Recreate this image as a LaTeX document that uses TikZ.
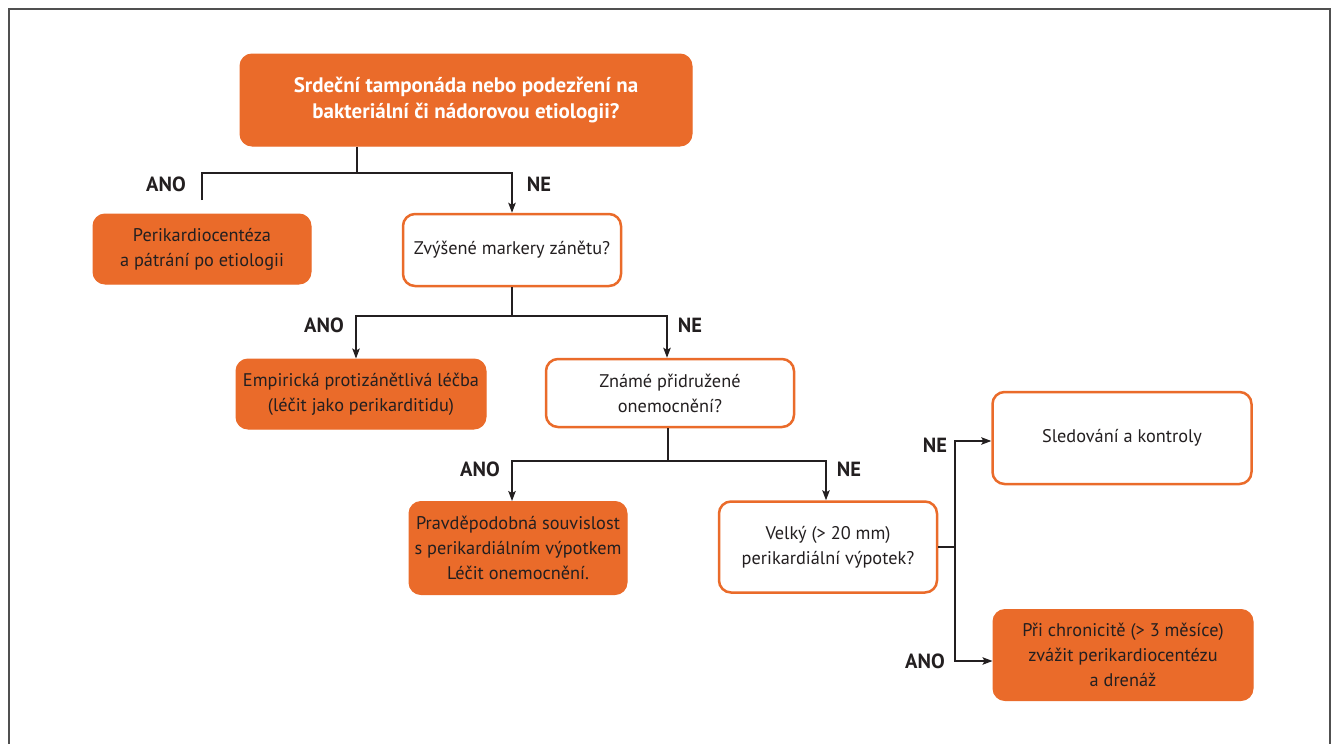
\documentclass[tikz,border=0pt]{standalone}
\usepackage{fontspec}
\setmainfont{PT Sans}
\usetikzlibrary{arrows.meta}
\definecolor{orng}{RGB}{234,107,42}
\definecolor{ink}{RGB}{35,31,32}
\definecolor{framec}{RGB}{80,80,80}
\begin{document}
\begin{tikzpicture}[x=1pt,y=-1pt,
  basebox/.style={rounded corners=12pt, align=center, inner sep=0pt, text=ink,
    font=\fontsize{18.3}{25}\selectfont},
  fillbox/.style={basebox, draw=orng, fill=orng, line width=1pt},
  openbox/.style={basebox, draw=orng, fill=white, line width=2.5pt},
  lab/.style={font=\bfseries\fontsize{20.5}{22}\selectfont, text=ink},
  conn/.style={draw=ink, line width=1.2pt},
  arr/.style={conn, -{Stealth[length=10pt,width=7.5pt,inset=2pt]}}]
\useasboundingbox (0,0) rectangle (1333,744);
\draw[framec, line width=1.2pt] (9,750) -- (9,9) -- (1330,9) -- (1330,750);

\node[fillbox, minimum width=452pt, minimum height=92pt, text=white,
  font=\bfseries\fontsize{21}{25.5}\selectfont] (top) at (466,100)
  {Srdeční tamponáda nebo podezření na\\bakteriální či nádorovou etiologii?};
\node[fillbox, minimum width=218pt, minimum height=70pt] (peri) at (202,249)
  {Perikardiocentéza\\a pátrání po etiologii};
\node[openbox, minimum width=218pt, minimum height=72pt] (zvys) at (512,250)
  {Zvýšené markery zánětu?};
\node[fillbox, minimum width=250pt, minimum height=70pt] (emp) at (361,394)
  {Empirická protizánětlivá léčba\\(léčit jako perikarditidu)};
\node[openbox, minimum width=248pt, minimum height=68pt] (znam) at (670,393)
  {Známé přidružené\\onemocnění?};
\node[fillbox, minimum width=218pt, minimum height=93pt] (prav) at (518,548)
  {Pravděpodobná souvislost\\s perikardiálním výpotkem\\Léčit onemocnění.};
\node[openbox, minimum width=218pt, minimum height=91pt] (velky) at (828,547)
  {Velký (> 20 mm)\\perikardiální výpotek?};
\node[openbox, minimum width=259pt, minimum height=92pt] (sled) at (1122,438)
  {Sledování a kontroly};
\node[fillbox, minimum width=260pt, minimum height=91pt] (chron) at (1123,655)
  {Při chronicitě (> 3 měsíce)\\zvážit perikardiocentézu\\a drenáž};

% level 1
\coordinate (j1) at (357,173);
\coordinate (a1) at (202,200);
\draw[conn] (j1 |- top.south) -- (j1);
\draw[conn] (a1) |- (j1);
\draw[arr] (j1) -| (zvys.north);
\node[lab] (l1a) at (166,184) {ANO};
\node[lab] (l1n) at (539,184) {NE};

% level 2
\coordinate (j2) at (512,316);
\draw[conn] (zvys.south) -- (j2);
\draw[arr] (j2) -| (emp.north -| 356,0);
\draw[arr] (j2) -| (znam.north -| 667,0);
\node[lab] (l2a) at (324,325) {ANO};
\node[lab] (l2n) at (690,325) {NE};

% level 3
\coordinate (j3) at (668,461);
\draw[conn] (znam.south -| j3) -- (j3);
\draw[arr] (j3) -| (prav.north -| 512,0);
\draw[arr] (j3) -| (velky.north -| 826,0);
\node[lab] (l3a) at (480,469) {ANO};
\node[lab] (l3n) at (849,469) {NE};

% right branch
\coordinate (j4) at (955,547);
\draw[conn] (velky.east) -- (j4);
\draw[arr] (j4) |- (sled.west |- 0,441);
\draw[arr] (j4) |- (chron.west |- 0,661);
\node[lab] (l4n) at (935,445) {NE};
\node[lab] (l4a) at (925,661) {ANO};
\end{tikzpicture}
\end{document}
